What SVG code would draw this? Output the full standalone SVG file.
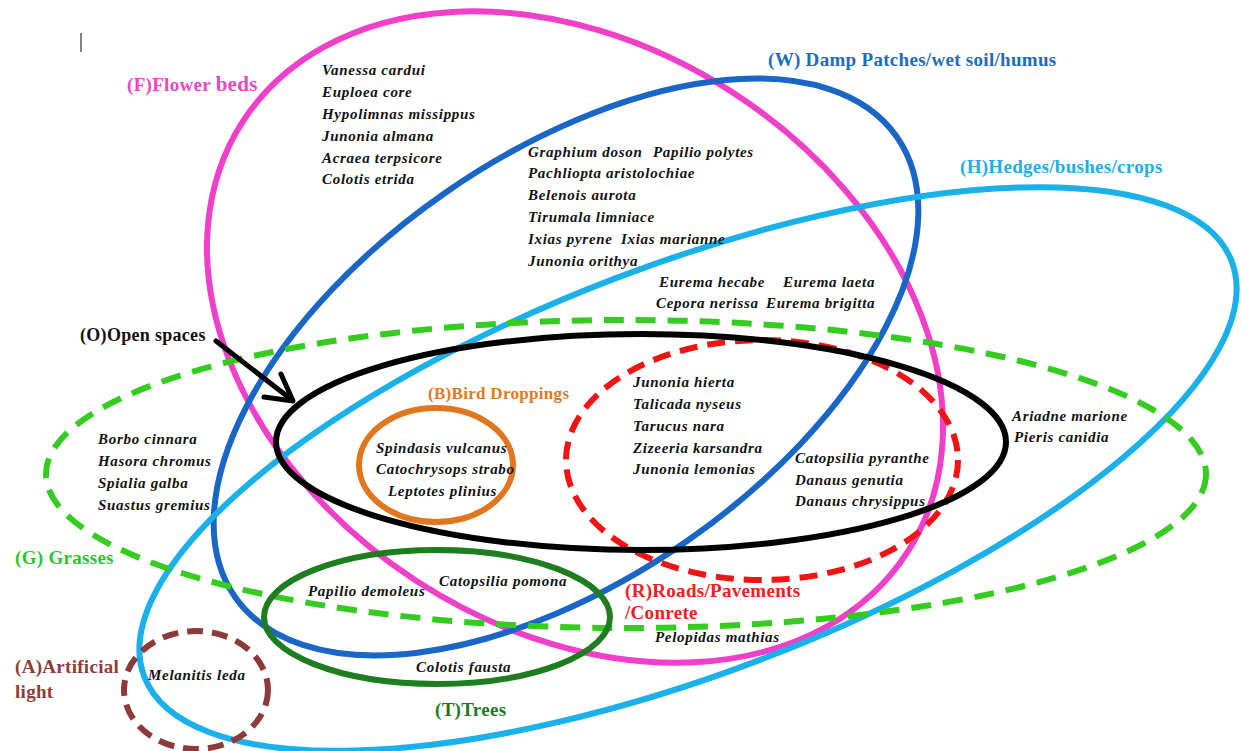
<svg xmlns="http://www.w3.org/2000/svg" width="1242" height="751" viewBox="0 0 1242 751">
<style>
.sp{font-family:"Liberation Serif","Times New Roman",serif;font-style:italic;font-weight:bold;font-size:15px;letter-spacing:0.7px;fill:#111}
.lb{font-family:"Liberation Serif","Times New Roman",serif;font-weight:bold;font-size:19px;letter-spacing:0.3px}
.e{fill:none;stroke-width:6}
</style>
<rect width="1242" height="751" fill="#fff"/>
<line x1="81" y1="33" x2="81" y2="52" stroke="#333" stroke-width="1.2"/>
<g id="connectors">
<g id="ellipses">
<ellipse id="F" class="e" cx="575" cy="337" rx="396" ry="291" transform="rotate(33 575 337)" stroke="#f03fc9"/>
<ellipse id="W" class="e" cx="566" cy="367" rx="403" ry="212" transform="rotate(-34.8 566 367)" stroke="#1a66c6"/>
<ellipse id="H" class="e" cx="688" cy="469" rx="582" ry="204" transform="rotate(-20.9 688 469)" stroke="#1ab0ea"/>
<ellipse id="G" class="e" cx="626" cy="474" rx="580" ry="154" stroke="#33cc1f" stroke-dasharray="20 12"/>
<ellipse id="R" class="e" cx="762" cy="460" rx="196" ry="120" stroke="#f01414" stroke-dasharray="18 10"/>
<ellipse id="O" class="e" cx="641" cy="442" rx="365" ry="108" stroke="#000"/>
<ellipse id="B" class="e" cx="436" cy="465" rx="77" ry="57" stroke="#e2761e" stroke-width="5"/>
<ellipse id="T" class="e" cx="437" cy="617" rx="173" ry="67" stroke="#1e7d1e" stroke-width="5"/>
<ellipse id="A" class="e" cx="196" cy="690" rx="72" ry="59" stroke="#8e3a3a" stroke-width="5" stroke-dasharray="16 9"/>
</g>
<g id="arrow" stroke="#000" stroke-width="5" fill="none" stroke-linecap="round" stroke-linejoin="round">
<line x1="216" y1="341" x2="292" y2="400"/>
<polyline points="264,397 293,401 281,374"/>
</g>
</g>
<g id="labels" class="lb">
<text x="127" y="91" fill="#ec45c5">(F)Flower <tspan font-size="21">beds</tspan></text>
<text x="768" y="66" fill="#1e6bc0">(W) Damp Patches/wet soil/humus</text>
<text x="960" y="173" fill="#22aee6">(H)Hedges/bushes/crops</text>
<text x="80" y="341" fill="#111" font-size="18">(O)Open spaces</text>
<text x="428" y="399" fill="#e07a22" font-size="17">(B)Bird Droppings</text>
<text x="15" y="564" fill="#2fc42f">(G) Grasses</text>
<text x="625" y="597" fill="#ee2020">(R)Roads/Pavements</text>
<text x="625" y="619" fill="#ee2020">/Conrete</text>
<text x="15" y="673" fill="#8e3c3c">(A)Artificial</text>
<text x="15" y="698" fill="#8e3c3c">light</text>
<text x="435" y="716" fill="#1f7a1f">(T)Trees</text>
</g>
<g id="species" class="sp">
<text x="322" y="75">Vanessa cardui</text>
<text x="322" y="97">Euploea core</text>
<text x="322" y="119">Hypolimnas missippus</text>
<text x="322" y="141">Junonia almana</text>
<text x="322" y="163">Acraea terpsicore</text>
<text x="322" y="184">Colotis etrida</text>
<text x="528" y="157">Graphium doson <tspan x="653">Papilio polytes</tspan></text>
<text x="528" y="178">Pachliopta aristolochiae</text>
<text x="528" y="200">Belenois aurota</text>
<text x="528" y="222">Tirumala limniace</text>
<text x="528" y="244">Ixias pyrene <tspan x="621">Ixias marianne</tspan></text>
<text x="528" y="266">Junonia orithya</text>
<text x="659" y="287">Eurema hecabe <tspan x="783">Eurema laeta</tspan></text>
<text x="656" y="308">Cepora nerissa <tspan x="766">Eurema brigitta</tspan></text>
<text x="633" y="387">Junonia hierta</text>
<text x="633" y="409">Talicada nyseus</text>
<text x="633" y="431">Tarucus nara</text>
<text x="633" y="453">Zizeeria karsandra</text>
<text x="633" y="474">Junonia lemonias</text>
<text x="795" y="463">Catopsilia pyranthe</text>
<text x="795" y="485">Danaus genutia</text>
<text x="795" y="506">Danaus chrysippus</text>
<text x="1012" y="421">Ariadne marione</text>
<text x="1014" y="442">Pieris canidia</text>
<text x="376" y="453">Spindasis vulcanus</text>
<text x="376" y="474">Catochrysops strabo</text>
<text x="388" y="496">Leptotes plinius</text>
<text x="98" y="444">Borbo cinnara</text>
<text x="98" y="466">Hasora chromus</text>
<text x="98" y="488">Spialia galba</text>
<text x="98" y="510">Suastus gremius</text>
<text x="308" y="596">Papilio demoleus</text>
<text x="439" y="586">Catopsilia pomona</text>
<text x="416" y="672">Colotis fausta</text>
<text x="655" y="642">Pelopidas mathias</text>
<text x="148" y="680">Melanitis leda</text>
</g>
</svg>
